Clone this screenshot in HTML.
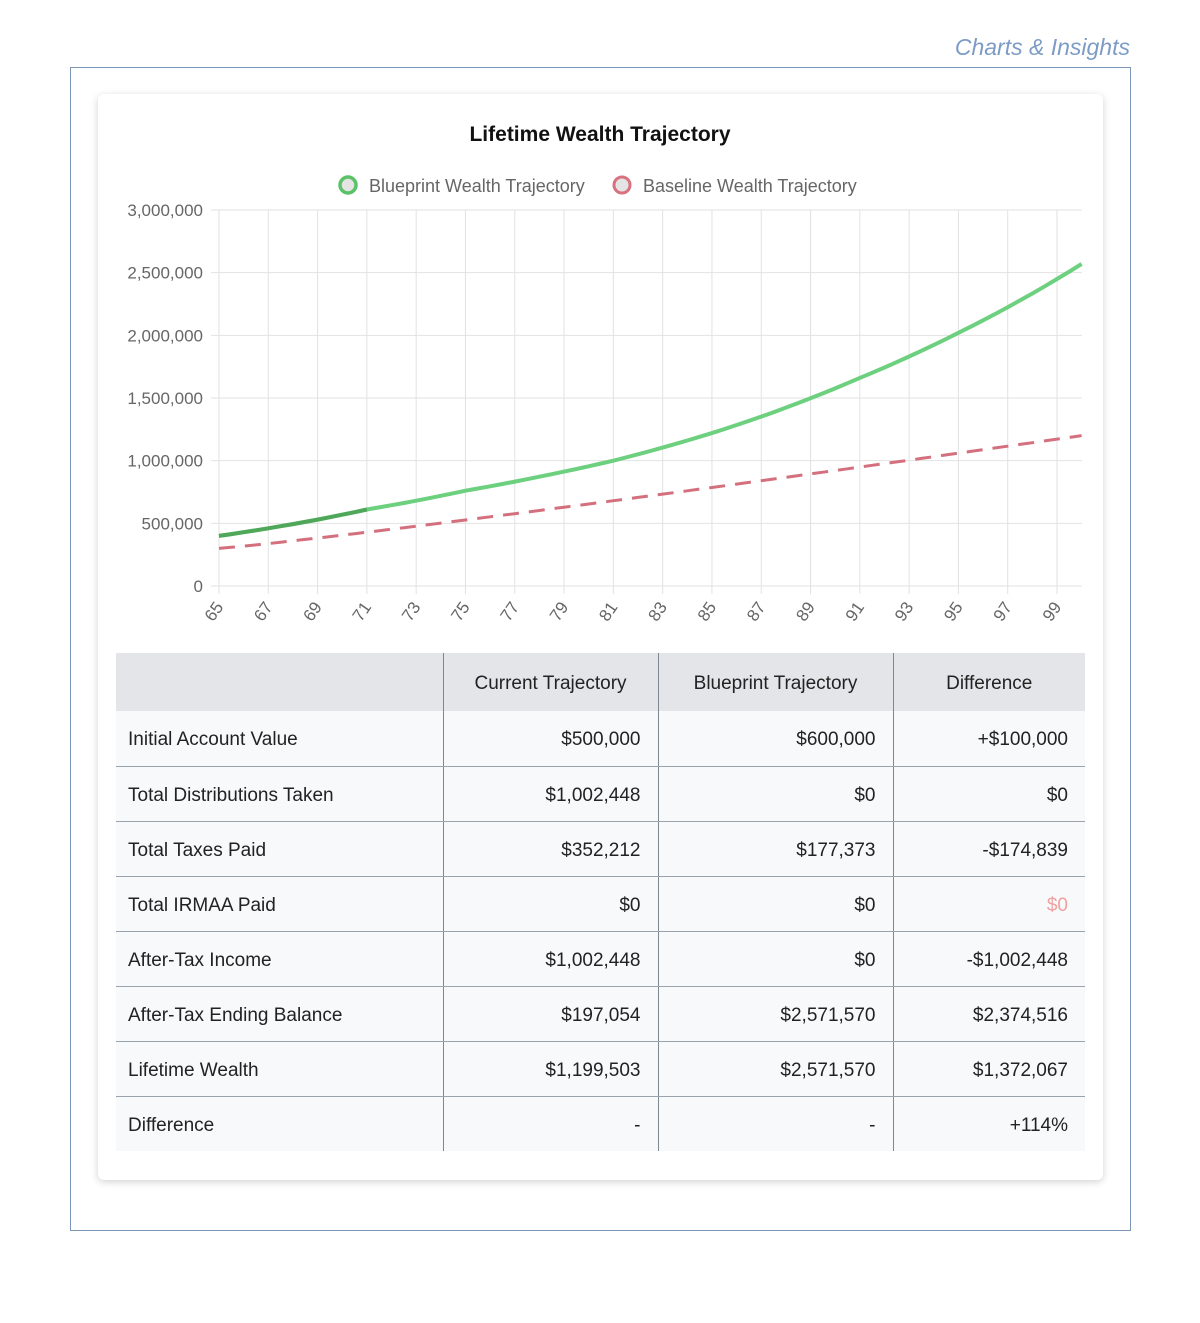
<!DOCTYPE html>
<html><head><meta charset="utf-8"><style>
body{margin:0;width:1200px;height:1323px;background:#fff;font-family:"Liberation Sans",sans-serif;position:relative;overflow:hidden}
.hd{position:absolute;right:70px;top:34px;font-size:23px;font-style:italic;color:#7d9cc5}
.outer{position:absolute;left:70px;top:67px;width:1059px;height:1162px;border:1.5px solid #7c97b8}
.card{position:absolute;left:98px;top:94px;width:1005px;height:1086px;background:#fff;border-radius:6px;box-shadow:0 2px 8px rgba(0,0,0,.18)}
table{position:absolute;left:116px;top:653px;width:969px;border-collapse:collapse;table-layout:fixed;font-size:19px;color:#222}
td,th{height:55px;padding:4px 17px 0 12px;border-bottom:1.5px solid #9aa3ad;box-sizing:border-box}
th{height:58px;background:#e3e5e8;font-weight:normal;text-align:center;border-bottom:none;padding:4px 0 0 0}
tr td{background:#f8f9fb}
td.n{text-align:right}
td+td,th+th{border-left:1.5px solid #7d8792}
tr:last-child td{border-bottom:none}
</style></head><body>
<div class="hd">Charts &amp; Insights</div>
<div class="outer"></div>
<div class="card"></div>
<svg width="1200" height="660" style="position:absolute;left:0;top:0" font-family="Liberation Sans, sans-serif">
<text x="600" y="141" text-anchor="middle" font-size="21" font-weight="bold" fill="#111">Lifetime Wealth Trajectory</text>
<circle cx="348" cy="185" r="8" fill="#e4e4e4" stroke="#5cc26a" stroke-width="3.5"/>
<text x="369" y="192" font-size="18" fill="#666">Blueprint Wealth Trajectory</text>
<circle cx="622" cy="185" r="8" fill="#e4e4e4" stroke="#d9727f" stroke-width="3"/>
<text x="643" y="192" font-size="18" fill="#666">Baseline Wealth Trajectory</text>
<g id="g"></g>
</svg>
<table>
<colgroup><col style="width:327px"><col style="width:215px"><col style="width:235px"><col style="width:192px"></colgroup>
<tr><th></th><th>Current Trajectory</th><th>Blueprint Trajectory</th><th>Difference</th></tr>
<tr><td>Initial Account Value</td><td class="n">$500,000</td><td class="n">$600,000</td><td class="n">+$100,000</td></tr>
<tr><td>Total Distributions Taken</td><td class="n">$1,002,448</td><td class="n">$0</td><td class="n">$0</td></tr>
<tr><td>Total Taxes Paid</td><td class="n">$352,212</td><td class="n">$177,373</td><td class="n">-$174,839</td></tr>
<tr><td>Total IRMAA Paid</td><td class="n">$0</td><td class="n">$0</td><td class="n" style="color:#f0a0a0">$0</td></tr>
<tr><td>After-Tax Income</td><td class="n">$1,002,448</td><td class="n">$0</td><td class="n">-$1,002,448</td></tr>
<tr><td>After-Tax Ending Balance</td><td class="n">$197,054</td><td class="n">$2,571,570</td><td class="n">$2,374,516</td></tr>
<tr><td>Lifetime Wealth</td><td class="n">$1,199,503</td><td class="n">$2,571,570</td><td class="n">$1,372,067</td></tr>
<tr><td>Difference</td><td class="n">-</td><td class="n">-</td><td class="n">+114%</td></tr>
</table>
<script>
var g=document.getElementById('g'),s='';
var X0=219,dx=(1057-219)/34,Y0=586,k=376/3e6;
for(var i=0;i<=6;i++){var y=Y0-i*500000*k;s+='<line x1="211" x2="1082" y1="'+y+'" y2="'+y+'" stroke="#e2e2e2"/>';
s+='<text x="203" y="'+(y+6)+'" text-anchor="end" font-size="17" fill="#666">'+(i==0?'0':(i*500000).toLocaleString('en-US'))+'</text>';}
for(var t=0;t<=34;t+=2){var x=X0+t*dx;s+='<line x1="'+x+'" x2="'+x+'" y1="210" y2="594" stroke="#e2e2e2"/>';
s+='<text transform="translate('+(x+5)+',607) rotate(-55)" text-anchor="end" font-size="17" fill="#666">'+(65+t)+'</text>';}
var P=[[0,400],[4,530],[6,610],[10,760],[16,1000],[20,1220],[26,1660],[30,2020],[35,2570]];
function bp(t){for(var j=0;j<P.length-1;j++){if(t<=P[j+1][0]){var f=(t-P[j][0])/(P[j+1][0]-P[j][0]);return 1000*Math.exp(Math.log(P[j][1])*(1-f)+Math.log(P[j+1][1])*f);}}}
var a='',b='',c='';
for(var t=0;t<=35;t+=0.5){var x=X0+t*dx;var v1=bp(t);var v2=300000+900000*Math.pow(t/35,1.1);
var pt=x.toFixed(1)+','+(Y0-v1*k).toFixed(1);
a+=(t?'L':'M')+pt;if(t<=6)c+=(t?'L':'M')+pt;b+=(t?'L':'M')+x.toFixed(1)+','+(Y0-v2*k).toFixed(1);}
s+='<path d="'+b+'" fill="none" stroke="#d4707e" stroke-width="3" stroke-dasharray="16,10"/>';
s+='<path d="'+a+'" fill="none" stroke="#6dd07f" stroke-width="4"/>';
s+='<path d="'+c+'" fill="none" stroke="#4fa75a" stroke-width="4"/>';
g.innerHTML=s;
</script>
</body></html>
